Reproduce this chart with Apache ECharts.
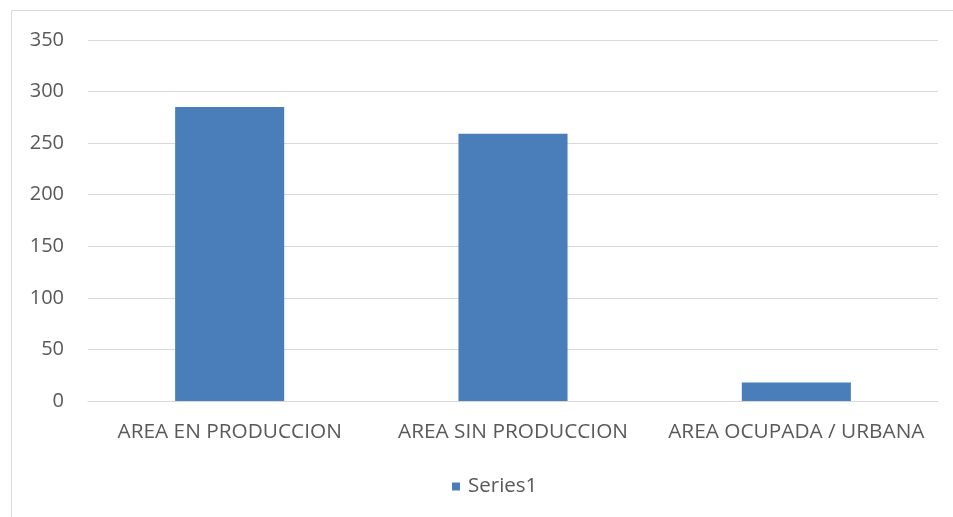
<!DOCTYPE html>
<html>
<head>
<meta charset="utf-8">
<script src="https://cdn.jsdelivr.net/npm/echarts@6/dist/echarts.min.js"></script>
<style>
  html, body { margin: 0; padding: 0; background: #fff; }
  #chart { width: 953px; height: 517px; }
</style>
</head>
<body>
<div id="chart"></div>
<script>
const categories = ['AREA EN PRODUCCION', 'AREA SIN PRODUCCION', 'AREA OCUPADA / URBANA']
const series1 = [285, 259, 18]
const seriesName = 'Series1'

const textColor = '#595959'
const gridColor = '#d9d9d9'
const barColor = '#4a7ebb'
const font = 'Open Sans'

const chart = echarts.init(document.getElementById('chart'))

chart.setOption({
  animation: false,
  textStyle: { fontFamily: font },
  graphic: [
    {
      type: 'rect',
      shape: { x: 11.5, y: 10.5, width: 960, height: 530 },
      style: { fill: 'none', stroke: gridColor, lineWidth: 1 },
      silent: true,
    },
  ],
  grid: { left: 88, right: 15, top: 40, bottom: 116 },
  legend: {
    bottom: 15,
    left: 447,
    icon: 'rect',
    itemWidth: 8,
    itemHeight: 8,
    itemGap: 8,
    textStyle: { color: textColor, fontSize: 20.5, fontFamily: font, padding: [0, 0, 0, 3] },
    data: [seriesName],
  },
  xAxis: {
    type: 'category',
    data: categories,
    axisLine: { lineStyle: { color: gridColor, width: 1 } },
    axisTick: { show: false },
    axisLabel: { color: textColor, fontSize: 20.8, margin: 21, interval: 0, fontFamily: font },
  },
  yAxis: {
    type: 'value',
    min: 0,
    max: 350,
    interval: 50,
    axisLine: { show: false },
    axisTick: { show: false },
    splitLine: { lineStyle: { color: gridColor, width: 1 } },
    axisLabel: { color: textColor, fontSize: 20, margin: 24, fontFamily: font },
  },
  series: [
    {
      name: seriesName,
      type: 'bar',
      data: series1,
      barCategoryGap: '61.5%',
      itemStyle: { color: barColor },
    },
  ],
})
</script>
</body>
</html>
